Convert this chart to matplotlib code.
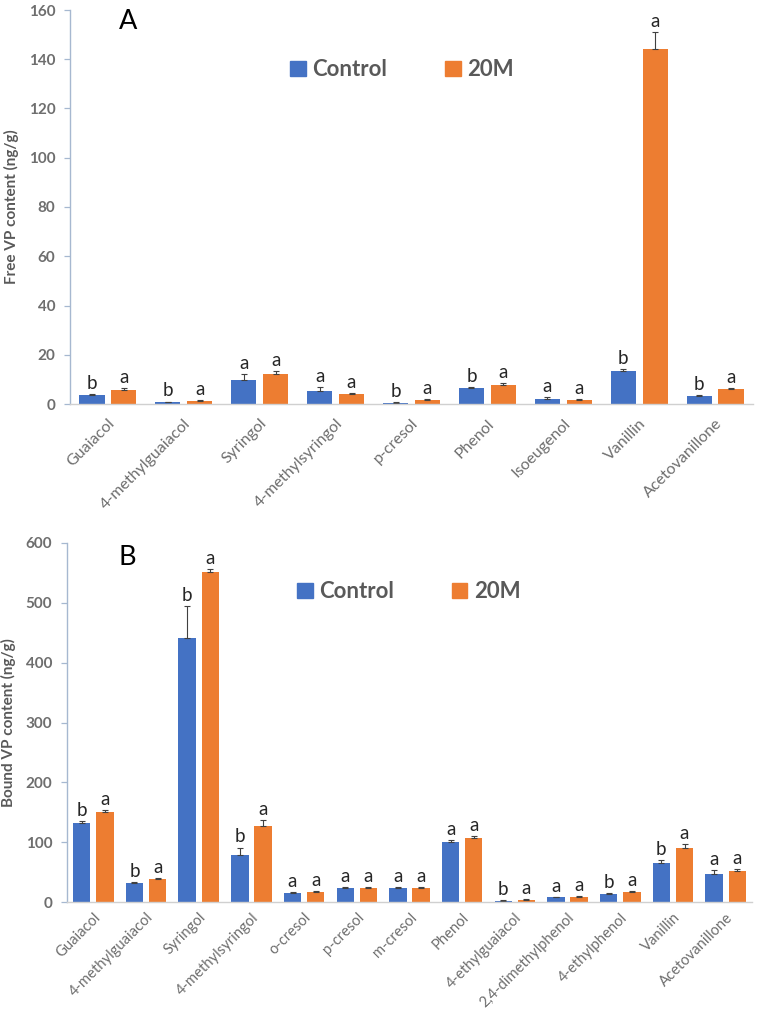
import matplotlib
matplotlib.use("Agg")
import matplotlib.pyplot as plt
from matplotlib.patches import Patch
import numpy as np

plt.rcParams['font.family'] = ['Lato', 'DejaVu Sans']

# ---------- Data ----------
free_cats = ["Guaiacol", "4-methylguaiacol", "Syringol", "4-methylsyringol", "p-cresol",
             "Phenol", "Isoeugenol", "Vanillin", "Acetovanillone"]
free_control = [3.7, 0.8, 9.8, 5.4, 0.6, 6.6, 2.0, 13.5, 3.3]
free_control_err = [0.3, 0.2, 2.4, 1.4, 0.2, 0.3, 0.7, 0.6, 0.3]
free_20m = [5.7, 1.3, 12.2, 4.1, 1.7, 7.7, 1.8, 144.0, 6.1]
free_20m_err = [0.6, 0.3, 1.2, 0.4, 0.3, 0.8, 0.3, 7.2, 0.2]
free_control_letters = ["b", "b", "a", "a", "b", "b", "a", "b", "b"]
free_20m_letters = ["a", "a", "a", "a", "a", "a", "a", "a", "a"]

bound_cats = ["Guaiacol", "4-methylguaiacol", "Syringol", "4-methylsyringol", "o-cresol",
              "p-cresol", "m-cresol", "Phenol", "4-ethylguaiacol", "2,4-dimethylphenol",
              "4-ethylphenol", "Vanillin", "Acetovanillone"]
bound_control = [132, 32, 442, 78, 15, 24, 24, 100, 2, 8, 14, 65, 47]
bound_control_err = [3, 1, 53, 13, 1, 1, 1, 4, 1, 1, 1, 5, 6]
bound_20m = [150, 38, 552, 127, 17, 24, 24, 107, 4, 9, 17, 90, 52]
bound_20m_err = [3, 2, 5, 10, 1, 1, 1, 4, 1, 1, 1, 7, 3]
bound_control_letters = ["b", "b", "b", "b", "a", "a", "a", "a", "b", "a", "b", "b", "a"]
bound_20m_letters = ["a"] * 13

free_yticks = [0, 20, 40, 60, 80, 100, 120, 140, 160]
bound_yticks = [0, 100, 200, 300, 400, 500, 600]

BLUE = "#4472C4"
ORANGE = "#ED7D31"
AXIS = "#A6B8D0"
TICKTXT = "#6E6E6E"
LABTXT = "#595959"

W, H = 758, 1014
fig = plt.figure(figsize=(W / 100, H / 100), dpi=100)


def px_axes(left, right, top, bottom):
    return fig.add_axes([left / W, 1 - bottom / H, (right - left) / W, (bottom - top) / H])


def draw(ax, cats, c, ce, t, te, cl, tl, yticks, ylabel, panel, bw, off, leg_xy, panel_xy,
         xfs, xpad):
    x = np.arange(len(cats))
    ekw = dict(ecolor="#404040", elinewidth=0.8, capsize=2.5, capthick=0.8)
    ax.bar(x - off, c, bw, color=BLUE, yerr=[np.zeros(len(c)), ce], error_kw=ekw, zorder=2)
    ax.bar(x + off, t, bw, color=ORANGE, yerr=[np.zeros(len(t)), te], error_kw=ekw, zorder=2)
    for xi, v, e, s in zip(x - off, c, ce, cl):
        ax.annotate(s, (xi, v + e), xytext=(0, 1.5), textcoords="offset points",
                    ha="center", va="bottom", fontsize=13.5, color="#262626")
    for xi, v, e, s in zip(x + off, t, te, tl):
        ax.annotate(s, (xi, v + e), xytext=(0, 1.5), textcoords="offset points",
                    ha="center", va="bottom", fontsize=13.5, color="#262626")
    ax.set_xlim(-0.5, len(cats) - 0.5)
    ax.set_ylim(yticks[0], yticks[-1])
    ax.set_yticks(yticks)
    ax.set_xticks(x)
    ax.set_xticklabels(cats, rotation=45, ha="right", rotation_mode="anchor",
                       fontsize=xfs, color=TICKTXT)
    for lab in ax.get_yticklabels():
        lab.set_fontweight("bold")
        lab.set_color(TICKTXT)
        lab.set_fontsize(11)
    ax.tick_params(axis="x", length=0, pad=xpad)
    ax.tick_params(axis="y", length=4.5, color=AXIS, width=0.9, pad=6)
    for s in ["top", "right"]:
        ax.spines[s].set_visible(False)
    ax.spines["left"].set_color(AXIS)
    ax.spines["bottom"].set_color("#D0D0D0")
    ax.spines["left"].set_linewidth(1.0)
    ax.spines["bottom"].set_linewidth(1.0)
    ax.set_ylabel(ylabel, fontsize=11, fontweight="bold", color=LABTXT, labelpad=7)
    ax.text(panel_xy[0], panel_xy[1], panel, transform=ax.transAxes, fontsize=19.5,
            ha="center", va="center", color="black")
    handles = [Patch(color=BLUE, label="Control"), Patch(color=ORANGE, label="20M")]
    leg = ax.legend(handles=handles, loc="center", bbox_to_anchor=leg_xy, ncol=2,
                    frameon=False, handlelength=0.7, handleheight=0.7, handletextpad=0.3,
                    columnspacing=2.6, prop=dict(size=16, weight="bold"))
    for txt in leg.get_texts():
        txt.set_color(LABTXT)


axA = px_axes(70, 753, 10, 404)
draw(axA, free_cats, free_control, free_control_err, free_20m, free_20m_err,
     free_control_letters, free_20m_letters, free_yticks, "Free VP content (ng/g)", "A",
     0.33, 0.21, (0.486, 0.848), (0.085, 0.972), 11.5, 9)

axB = px_axes(67, 752, 543, 902)
draw(axB, bound_cats, bound_control, bound_control_err, bound_20m, bound_20m_err,
     bound_control_letters, bound_20m_letters, bound_yticks, "Bound VP content (ng/g)", "B",
     0.33, 0.22, (0.499, 0.864), (0.088, 0.961), 10.6, 6)

fig.savefig("out.png", dpi=100, facecolor="white")
